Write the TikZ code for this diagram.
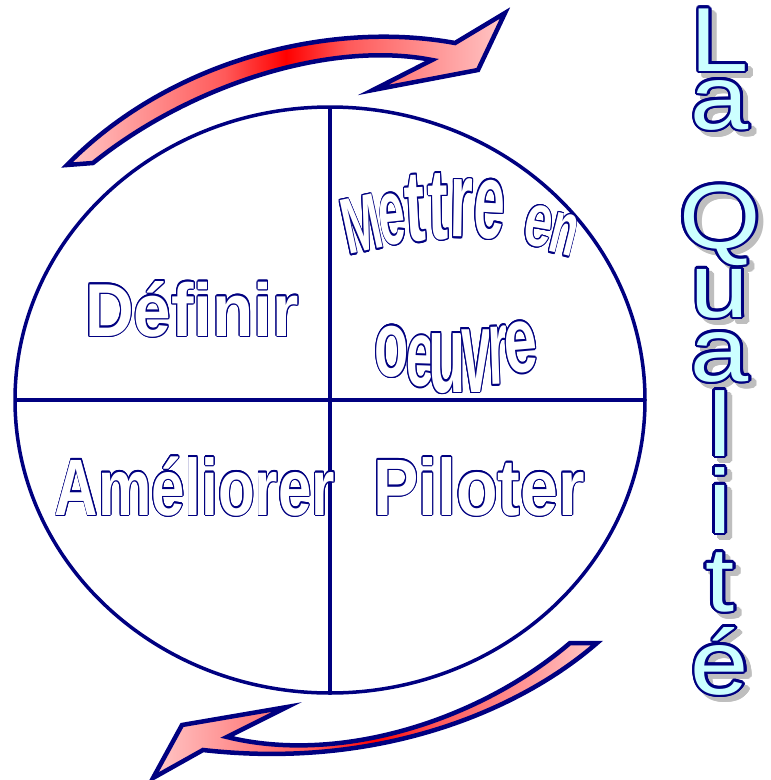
\documentclass[tikz,border=0pt]{standalone}
\usepackage{fontspec}
\setmainfont{Liberation Sans}
\usepackage{contour}
\usetikzlibrary{shapes.geometric}

\definecolor{navy}{RGB}{0,0,128}
\definecolor{paleblue}{RGB}{204,255,255}
\definecolor{shadowgray}{RGB}{190,190,190}

\pgfdeclarehorizontalshading{glow}{100bp}{color(0bp)=(red!3); color(25bp)=(red!22);
    color(43bp)=(red!65); color(50bp)=(red); color(57bp)=(red!65); color(75bp)=(red!22); color(100bp)=(red!2)}

\contourlength{1.2pt}
\newcommand{\hollow}[1]{\contour{navy}{\textcolor{white}{#1}}}
\newcommand{\glassy}[1]{{\contourlength{2.4pt}\contour{navy}{\textcolor{paleblue}{#1}}}}
\newcommand{\ghost}[1]{{\contourlength{2.4pt}\contour{shadowgray}{\textcolor{shadowgray}{#1}}}}

\begin{document}
\begin{tikzpicture}[x=1pt, y=-1pt,
    every node/.style={inner sep=0pt, outer sep=0pt},
    band/.style={draw=navy, line width=4.5pt, line join=miter, shade, shading=glow},
    word/.style={font=\fontsize{80}{80}\selectfont\bfseries, anchor=base, transform shape},
    arcword/.style={font=\fontsize{72}{72}\selectfont\bfseries, anchor=base},
    quality/.style={font=\fontsize{91}{91}\selectfont, anchor=base, xscale=1.15, transform shape}]

    \useasboundingbox (0,0) rectangle (771,780);

    % Wheel and its four quarters
    \node[ellipse, draw=navy, line width=3.5pt, minimum width=630pt, minimum height=586pt] (wheel) at (330,400) {};
    \draw[navy, line width=3.5pt] (wheel.north) -- (wheel.south);
    \draw[navy, line width=3.5pt] (wheel.west) -- (wheel.east);

    % Upper arrow
    \draw[band] (67,165) .. controls (170,60) and (330,20) .. (455,43) -- (505,13) -- (478,70)
        -- (373,90) -- (432,60) .. controls (330,40) and (190,85) .. (93,163) -- cycle;

    % Lower arrow
    \draw[band] (597,643) .. controls (520,710) and (380,770) .. (203,750) -- (153,778) -- (182,725)
        -- (287,707) -- (227,737) .. controls (340,765) and (480,720) .. (570,643) -- cycle;

    % Quarter labels
    \node[word, xscale=0.9, font=\fontsize{75}{75}\selectfont\bfseries] (def) at (192,336) {\hollow{Définir}};
    \node[word, xscale=0.75] (amel) at (195,515) {\hollow{Améliorer}};
    \node[word, xscale=0.85] (pil) at (479,515) {\hollow{Piloter}};

    % Arched label (letter/x/baseline/turn/width/height)
    \foreach \ch/\x/\y/\r/\sx/\sy [count=\i] in {M/367/251/12/0.64/1.1, e/395/244/6/0.66/1.3,
        t/417/241/3/0.85/1.4, t/439/239/1/0.85/1.4, r/461/237/-1/0.82/1.5, e/488/238/-3/0.78/1.5,
        e/535/246/-10/0.7/1.05, n/559/254/-14/0.6/1.05} {
        \node[arcword, rotate=\r] (mt\i) at (\x,\y) {\scalebox{\sx}[\sy]{\hollow{\ch}}};
    }
    \foreach \ch/\x/\y/\r/\sx/\sy [count=\i] in {o/392/376/0/0.78/1.3, e/420/386/-2/0.72/1.3,
        u/447/392/0/0.85/1.55, v/476/392/0/0.74/1.65, r/499/384/2/0.7/1.5, e/523/372/5/0.83/1.3} {
        \node[arcword, rotate=\r] (oe\i) at (\x,\y) {\scalebox{\sx}[\sy]{\hollow{\ch}}};
    }

    % Title down the right side
    \foreach \ch/\y [count=\i] in {L/71, a/129, Q/248, u/317, a/381, l/456, i/533, t/611, é/694} {
        \node[quality] (qs\i) at (725,\y+5) {\ghost{\ch}};
        \node[quality] (q\i) at (720,\y) {\glassy{\ch}};
    }

\end{tikzpicture}
\end{document}
